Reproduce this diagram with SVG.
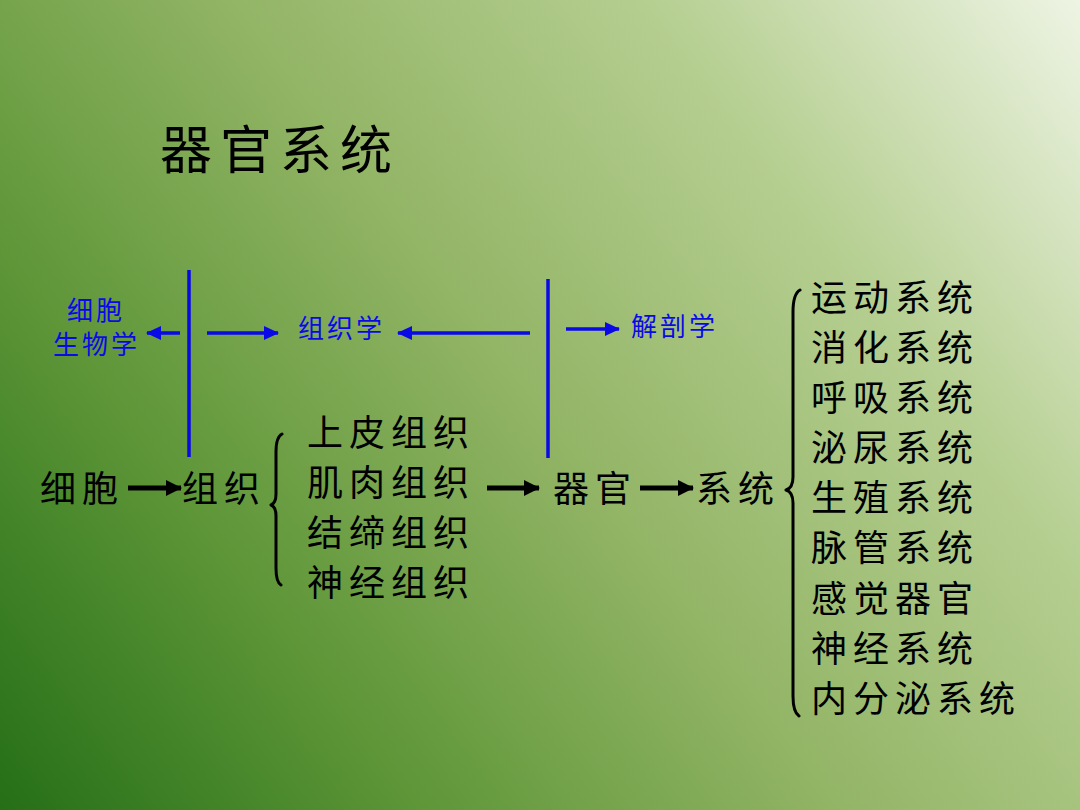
<svg xmlns="http://www.w3.org/2000/svg" width="1080" height="810" viewBox="0 0 1080 810">
<defs>
<linearGradient id="bg" gradientUnits="userSpaceOnUse" x1="0" y1="810" x2="1080" y2="0">
<stop offset="0" stop-color="#256f17"/>
<stop offset="0.25" stop-color="#5e9638"/>
<stop offset="0.5" stop-color="#93b566"/>
<stop offset="0.75" stop-color="#b6cf92"/>
<stop offset="1" stop-color="#eef4e4"/>
</linearGradient>
<marker id="ak" markerUnits="userSpaceOnUse" markerWidth="17" markerHeight="16" refX="15" refY="8" orient="auto">
<path d="M0,0 L16,8 L0,16 Z" fill="#000"/>
</marker>
<marker id="ab" markerUnits="userSpaceOnUse" markerWidth="16" markerHeight="14" refX="14" refY="7" orient="auto">
<path d="M0,0 L15,7 L0,14 Z" fill="#0a0ae6"/>
</marker>
</defs>
<style>
text{font-family:"Noto Sans CJK SC","Noto Sans CJK TC",sans-serif}
.t{font-size:52px;letter-spacing:8px;fill:#000}
.m{font-size:36px;letter-spacing:6px;fill:#000}
.b{font-size:26px;letter-spacing:3px;fill:#0a0ae6}
.bl{stroke:#0a0ae6;stroke-width:3.5;fill:none}
.bk{stroke:#000;stroke-width:5;fill:none}
.br{stroke:#000;stroke-width:3;fill:none;stroke-linecap:round;stroke-linejoin:round}
</style>
<rect width="1080" height="810" fill="url(#bg)"/>
<text id="title" class="t" x="160" y="169">器官系统</text>
<g id="connectors">
<line class="bl" x1="189" y1="270" x2="189" y2="457"/>
<line class="bl" x1="548" y1="279" x2="548" y2="458"/>
<line class="bl" x1="180" y1="333" x2="147" y2="333" marker-end="url(#ab)"/>
<line class="bl" x1="207" y1="333" x2="278" y2="333" marker-end="url(#ab)"/>
<line class="bl" x1="530" y1="333" x2="398" y2="333" marker-end="url(#ab)"/>
<line class="bl" x1="566" y1="329" x2="619" y2="329" marker-end="url(#ab)"/>
<line class="bk" x1="128" y1="488" x2="181" y2="488" marker-end="url(#ak)"/>
<line class="bk" x1="487" y1="488" x2="539" y2="488" marker-end="url(#ak)"/>
<line class="bk" x1="640" y1="488" x2="693" y2="488" marker-end="url(#ak)"/>
<path class="br" d="M282,434 Q276,437 276,452 L276,494 Q276,503 271,505 Q276,507 276,516 L276,568 Q276,582 281,585"/>
<path class="br" d="M800,290 Q793,294 793,312 L793,477 Q793,488 786,490 Q793,492 793,503 L793,696 Q793,712 799,716"/>
</g>
<g id="cell-bio"><text class="b" x="67" y="320">细胞</text><text class="b" x="53" y="354">生物学</text></g>
<g id="histology"><text class="b" x="298" y="338">组织学</text></g>
<g id="anatomy"><text class="b" x="631" y="336">解剖学</text></g>
<g id="cell"><text class="m" x="40" y="502">细胞</text></g>
<g id="tissue"><text class="m" x="182" y="502">组织</text></g>
<g id="tissues">
<text class="m" x="307" y="446">上皮组织</text>
<text class="m" x="307" y="496">肌肉组织</text>
<text class="m" x="307" y="546">结缔组织</text>
<text class="m" x="307" y="596">神经组织</text>
</g>
<g id="organ"><text class="m" x="553" y="502">器官</text></g>
<g id="system"><text class="m" x="696" y="502">系统</text></g>
<g id="systems">
<text class="m" x="811" y="311">运动系统</text>
<text class="m" x="811" y="361">消化系统</text>
<text class="m" x="811" y="411">呼吸系统</text>
<text class="m" x="811" y="461">泌尿系统</text>
<text class="m" x="811" y="511">生殖系统</text>
<text class="m" x="811" y="561">脉管系统</text>
<text class="m" x="811" y="612">感觉器官</text>
<text class="m" x="811" y="662">神经系统</text>
<text class="m" x="811" y="712">内分泌系统</text>
</g>
</svg>
